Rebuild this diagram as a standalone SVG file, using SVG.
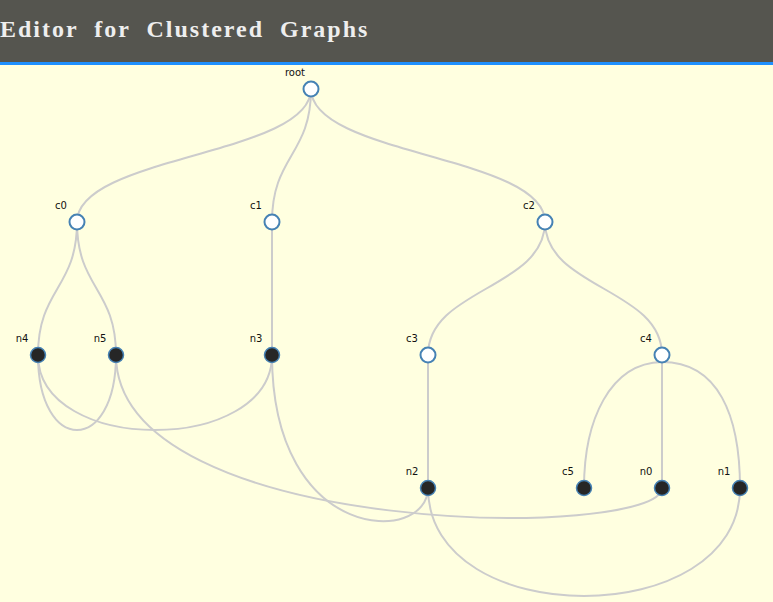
<svg xmlns="http://www.w3.org/2000/svg" width="773" height="602" viewBox="0 0 773 602">
<style>
.link{fill:none;stroke:#ccc;stroke-width:2}
.node circle{stroke:#4682b4;stroke-width:2}
.cluster circle{fill:#fff}
.leaf circle{fill:#262626;stroke-width:1.5}
.node text{font-family:"DejaVu Sans",sans-serif;font-size:10px;fill:#111;text-anchor:middle}
.title{font-family:"Liberation Serif",serif;font-weight:bold;font-size:24px;letter-spacing:2px;word-spacing:8px;fill:#eee}
</style>
<rect x="0" y="0" width="773" height="602" fill="#ffffe0"/>
<rect x="0" y="0" width="773" height="62" fill="#55554f"/>
<rect x="0" y="62" width="773" height="3" fill="#1e90ff"/>
<text class="title" x="0" y="37">Editor for Clustered Graphs</text>
<g id="connectors">
<path class="link" d="M311,89 C311,155.5 77,155.5 77,222"/>
<path class="link" d="M311,89 C311,155.5 272,155.5 272,222"/>
<path class="link" d="M311,89 C311,155.5 545,155.5 545,222"/>
<path class="link" d="M77,222 C77,288.5 38,288.5 38,355"/>
<path class="link" d="M77,222 C77,288.5 116,288.5 116,355"/>
<path class="link" d="M272,222 L272,355"/>
<path class="link" d="M545,222 C545,288.5 428,288.5 428,355"/>
<path class="link" d="M545,222 C545,288.5 662,288.5 662,355"/>
<path class="link" d="M428,355 L428,488"/>
<path class="link" d="M662,355 L662,488"/>
<path class="link" d="M584,488 C584,420 610,363 662,362"/>
<path class="link" d="M740,488 C740,415 718,362 662,362"/>
<path class="link" d="M38,355 C38,455 116,455 116,355"/>
<path class="link" d="M38,355 C38,455 272,455 272,355"/>
<path class="link" d="M272,355 C272,545 428,545 428,488"/>
<path class="link" d="M116,355 C116,540 662,540 662,488"/>
<path class="link" d="M428,488 C428,632 740,632 740,488"/>
</g>
<g id="root" class="node cluster"><circle cx="311" cy="89" r="7.5"/><text x="295" y="76">root</text></g>
<g id="c0" class="node cluster"><circle cx="77" cy="222" r="7.5"/><text x="61" y="209">c0</text></g>
<g id="c1" class="node cluster"><circle cx="272" cy="222" r="7.5"/><text x="256" y="209">c1</text></g>
<g id="c2" class="node cluster"><circle cx="545" cy="222" r="7.5"/><text x="529" y="209">c2</text></g>
<g id="n4" class="node leaf"><circle cx="38" cy="355" r="7.5"/><text x="22" y="342">n4</text></g>
<g id="n5" class="node leaf"><circle cx="116" cy="355" r="7.5"/><text x="100" y="342">n5</text></g>
<g id="n3" class="node leaf"><circle cx="272" cy="355" r="7.5"/><text x="256" y="342">n3</text></g>
<g id="c3" class="node cluster"><circle cx="428" cy="355" r="7.5"/><text x="412" y="342">c3</text></g>
<g id="c4" class="node cluster"><circle cx="662" cy="355" r="7.5"/><text x="646" y="342">c4</text></g>
<g id="n2" class="node leaf"><circle cx="428" cy="488" r="7.5"/><text x="412" y="475">n2</text></g>
<g id="c5" class="node leaf"><circle cx="584" cy="488" r="7.5"/><text x="568" y="475">c5</text></g>
<g id="n0" class="node leaf"><circle cx="662" cy="488" r="7.5"/><text x="646" y="475">n0</text></g>
<g id="n1" class="node leaf"><circle cx="740" cy="488" r="7.5"/><text x="724" y="475">n1</text></g>
</svg>
